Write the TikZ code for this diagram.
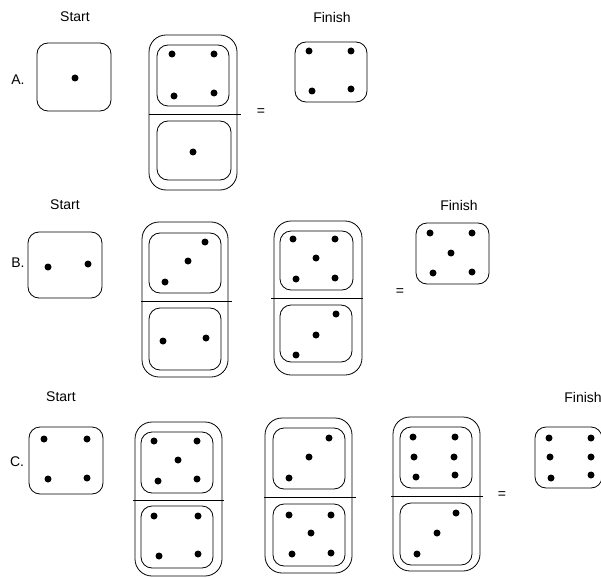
\documentclass[tikz,border=0pt]{standalone}
\usepackage{fontspec}
\setmainfont{Liberation Sans}
\begin{document}
\begin{tikzpicture}[x=1pt,y=-1pt,
  die/.style={draw, line width=0.8pt, rounded corners=11pt},
  outer/.style={draw, line width=0.8pt, rounded corners=17pt},
  bar/.style={draw, line width=0.8pt},
  lbl/.style={inner sep=0pt, font=\fontsize{14}{16}\selectfont}]
\useasboundingbox (0,0) rectangle (601,577);
\newcommand\pips[1]{\foreach \p in {#1} \fill \p circle (3.5);}
% ---------- Row A ----------
\node[lbl] (startA) at (75,17) {Start};
\node[lbl] (finishA) at (332,17) {Finish};
\node[lbl] (labA) at (18,80) {A.};
\draw[die] (37,43) rectangle (111,111);
\pips{(75,78)}
\draw[outer] (149,35) rectangle (237,190);
\draw[die] (157,45) rectangle (229,106);
\pips{(172,54),(214,54),(174,96),(214,93)}
\draw[bar] (149,114) -- (241,114);
\draw[die] (157,121) rectangle (231,180);
\pips{(193,152)}
\node[lbl] (eqA) at (261,112) {=};
\draw[die] (295,42) rectangle (367,102);
\pips{(309,51),(351,51),(312,91),(351,89)}
% ---------- Row B ----------
\node[lbl] (startB) at (65,205) {Start};
\node[lbl] (finishB) at (459,205) {Finish};
\node[lbl] (labB) at (18,263) {B.};
\draw[die] (28,232) rectangle (102,298);
\pips{(48,267),(88,264)}
\draw[outer] (142,222) rectangle (228,377);
\draw[die] (149,233) rectangle (221,293);
\pips{(205,242),(188,261),(165,282)}
\draw[bar] (141,301) -- (232,301);
\draw[die] (149,308) rectangle (221,370);
\pips{(163,341),(206,338)}
\draw[outer] (274,221) rectangle (362,375);
\draw[die] (280,231) rectangle (353,290);
\pips{(293,239),(335,239),(316,258),(296,279),(335,278)}
\draw[bar] (271,298) -- (363,298);
\draw[die] (280,305) rectangle (352,362);
\pips{(336,314),(316,335),(296,355)}
\node[lbl] (eqB) at (400,292) {=};
\draw[die] (416,223) rectangle (489,284);
\pips{(430,233),(472,233),(451,253),(433,273),(472,272)}
% ---------- Row C ----------
\node[lbl] (startC) at (61,397) {Start};
\node[lbl] (finishC) at (583,397) {Finish};
\node[lbl] (labC) at (17,462) {C.};
\draw[die] (29,427) rectangle (103,494);
\pips{(44,439),(87,439),(48,479),(87,478)}
\draw[outer] (135,422) rectangle (222,576);
\draw[die] (141,432) rectangle (213,493);
\pips{(154,441),(197,441),(178,460),(158,481),(197,479)}
\draw[bar] (133,500) -- (224,500);
\draw[die] (141,506) rectangle (213,568);
\pips{(154,516),(198,516),(159,556),(198,554)}
\draw[outer] (265,418) rectangle (352,573);
\draw[die] (273,428) rectangle (345,489);
\pips{(329,438),(309,457),(289,478)}
\draw[bar] (264,497) -- (356,497);
\draw[die] (273,504) rectangle (345,566);
\pips{(289,515),(331,515),(311,533),(292,554),(331,553)}
\draw[outer] (393,417) rectangle (480,571);
\draw[die] (400,427) rectangle (472,488);
\pips{(413,437),(455,437),(414,457),(454,457),(416,477),(455,475)}
\draw[bar] (391,496) -- (483,496);
\draw[die] (400,503) rectangle (472,565);
\pips{(456,513),(437,533),(417,554)}
\node[lbl] (eqC) at (502,495) {=};
\draw[die] (535,427) rectangle (602,488);
\pips{(549,438),(591,438),(550,457),(591,457),(551,478),(591,475)}
\end{tikzpicture}
\end{document}
